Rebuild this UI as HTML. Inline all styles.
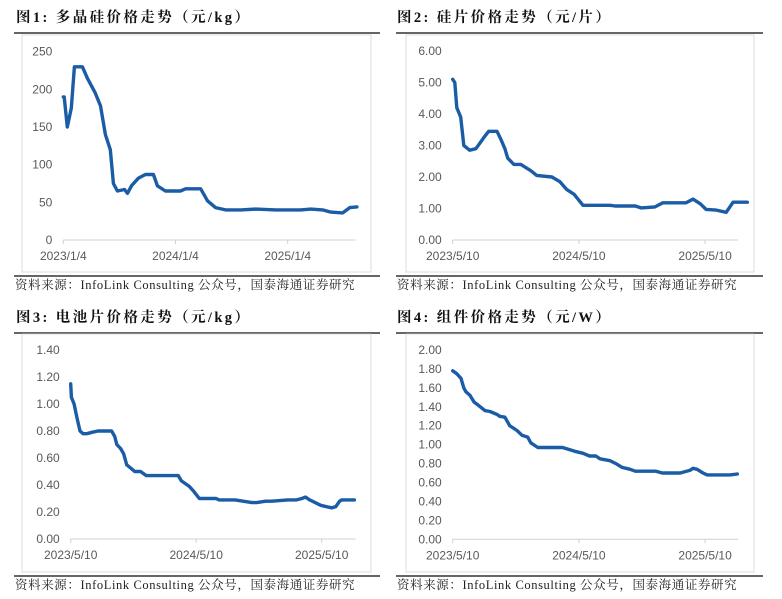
<!DOCTYPE html>
<html><head><meta charset="utf-8">
<style>
body{margin:0;background:#fff;width:782px;height:599px;overflow:hidden;font-family:"Liberation Serif","Noto Serif CJK SC",serif;}
svg{position:absolute;left:0;top:0}
</style></head>
<body>
<svg id="s" width="782" height="599"></svg>
<script>
// Chart 1: polysilicon (days since 2023/1/4)
const c1Days=[0,3,13,26,36,62,78,104,121,137,153,163,176,199,209,222,244,267,293,306,332,381,398,447,469,495,528,577,626,691,772,805,844,870,909,932,955];
const c1Vals=[190,190,150,175,230,230,215,195,178,140,120,75,65,67,62,72,82,87,87,72,65,65,68,68,52,43,40,40,41,40,40,41,40,37,36,43,44];
const c1Ticks=[0,50,100,150,200,250];
const c1XLabels=["2023/1/4","2024/1/4","2025/1/4"];
// Chart 2: wafer (days since 2023/5/10)
const c2Days=[0,6,12,23,32,49,67,90,104,128,139,151,159,177,197,226,243,287,310,330,351,377,455,470,528,545,585,608,675,695,716,733,762,791,811,831,852];
const c2Vals=[5.1,5.0,4.2,3.9,3.0,2.85,2.9,3.25,3.45,3.45,3.2,2.9,2.6,2.4,2.4,2.2,2.05,2.0,1.85,1.6,1.45,1.1,1.1,1.08,1.08,1.02,1.05,1.18,1.18,1.3,1.15,0.97,0.95,0.88,1.2,1.2,1.2];
const c2Ticks=[0,1,2,3,4,5,6];
const c2XLabels=["2023/5/10","2024/5/10","2025/5/10"];
// Chart 3: cell
const c3Days=[0,2,10,18,27,36,47,62,79,119,128,134,145,154,163,177,186,203,220,267,313,322,345,359,374,423,432,478,527,541,567,585,631,657,672,683,695,727,759,771,782,788,825];
const c3Vals=[1.15,1.05,1.0,0.9,0.8,0.78,0.78,0.79,0.8,0.8,0.76,0.7,0.67,0.63,0.55,0.52,0.5,0.5,0.47,0.47,0.47,0.43,0.39,0.35,0.3,0.3,0.29,0.29,0.27,0.27,0.28,0.28,0.29,0.29,0.3,0.31,0.29,0.25,0.23,0.24,0.28,0.29,0.29];
const c3Ticks=[0,0.2,0.4,0.6,0.8,1.0,1.2,1.4];
// Chart 4: module
const c4Days=[0,12,24,32,38,50,62,73,93,108,128,136,151,165,186,200,217,226,246,295,318,353,376,396,414,426,455,472,490,513,528,588,606,658,687,695,707,724,736,802,823];
const c4Vals=[1.78,1.75,1.7,1.6,1.56,1.52,1.45,1.42,1.36,1.35,1.32,1.3,1.29,1.2,1.15,1.1,1.08,1.02,0.97,0.97,0.97,0.93,0.91,0.88,0.88,0.85,0.83,0.8,0.76,0.74,0.72,0.72,0.7,0.7,0.73,0.75,0.74,0.7,0.68,0.68,0.69];
const c4Ticks=[0,0.2,0.4,0.6,0.8,1.0,1.2,1.4,1.6,1.8,2.0];

const NS="http://www.w3.org/2000/svg";
const svg=document.getElementById('s');
function mk(tag,attrs,parent){const e=document.createElementNS(NS,tag);for(const k in attrs)e.setAttribute(k,attrs[k]);(parent||svg).appendChild(e);return e;}

function panel(o){
  const g=mk('g',{});
  
  
  const t=mk('text',{x:o.tx,y:o.ty,'font-size':14.5,'font-weight':'bold',fill:'#111','letter-spacing':'2.4px','font-family':'"Liberation Serif","Noto Serif CJK SC",serif'},g);
  t.textContent=o.title;
  
  
  mk('line',{x1:o.lx1,x2:o.lx2,y1:o.ty+11,y2:o.ty+11,stroke:'#333','stroke-width':1.6},g);
  const box=mk('rect',{x:o.bx,y:o.by,width:o.bw,height:o.bh,fill:'none',stroke:'#dcdcdc','stroke-width':1},g);
  
  
  const ymin=o.ticks[0],ymax=o.ticks[o.ticks.length-1];
  const ys=v=>o.y0+(v-ymin)/(ymax-ymin)*(o.y1-o.y0);
  const xs=d=>o.x0+d*o.pxPerYear/365;
  o.ticks.forEach(v=>{
    const l=mk('text',{x:o.x0-11,y:ys(v)+4,'text-anchor':'end','font-size':12,fill:'#595959','font-family':'"Liberation Sans",sans-serif'},g);
    l.textContent=o.dec?v.toFixed(2):String(v);
    
    
  });
  mk('line',{x1:o.x0,x2:o.xEnd,y1:o.y0,y2:o.y0,stroke:'#d0d0d0','stroke-width':1},g);
  o.xl.forEach((s,i)=>{
    const x=o.x0+i*o.pxPerYear;
    mk('line',{x1:x,x2:x,y1:o.y0,y2:o.y0+4,stroke:'#d0d0d0'},g);
    const l=mk('text',{x:x,y:o.y0+20,'text-anchor':'middle','font-size':12,fill:'#595959','font-family':'"Liberation Sans",sans-serif'},g);
    l.textContent=s;
    
    
  });
  const pts=o.days.map((d,i)=>xs(d).toFixed(1)+','+ys(o.vals[i]).toFixed(1)).join(' ');
  const pl=mk('polyline',{points:pts,fill:'none',stroke:'#1b5ca6','stroke-width':3.4,'stroke-linejoin':'round','stroke-linecap':'round'},g);
  
  
  mk('line',{x1:o.lx1,x2:o.lx2,y1:o.by+o.bh+4,y2:o.by+o.bh+4,stroke:'#333','stroke-width':1.6},g);
  const src=mk('text',{x:o.lx1+1,y:o.by+o.bh+17,'font-size':12.5,fill:'#222','letter-spacing':'0.6px','font-family':'"Liberation Serif","Noto Serif CJK SC",serif'},g);
  src.textContent='资料来源：InfoLink Consulting 公众号，国泰海通证券研究';
  
  
}
panel({name:'polysilicon-chart',title:'图1:  多晶硅价格走势（元/kg）',tx:16,ty:22,lx1:14,lx2:380,bx:22,by:35,bw:349,bh:237,
  x0:63.3,xEnd:355.7,pxPerYear:112.2,y0:240,y1:51.7,ticks:c1Ticks,dec:false,xl:c1XLabels,days:c1Days,vals:c1Vals});
panel({name:'wafer-chart',title:'图2:  硅片价格走势（元/片）',tx:397,ty:22,lx1:396,lx2:763,bx:406,by:35,bw:348,bh:237,
  x0:452.7,xEnd:737.7,pxPerYear:126.2,y0:240,y1:51,ticks:c2Ticks,dec:true,xl:c2XLabels,days:c2Days,vals:c2Vals});
panel({name:'cell-chart',title:'图3:  电池片价格走势（元/kg）',tx:16,ty:322,lx1:14,lx2:380,bx:22,by:334,bw:349,bh:238,
  x0:70.7,xEnd:355.6,pxPerYear:125.5,y0:539,y1:350,ticks:c3Ticks,dec:true,xl:c2XLabels,days:c3Days,vals:c3Vals});
panel({name:'module-chart',title:'图4:  组件价格走势（元/W）',tx:397,ty:322,lx1:396,lx2:763,bx:406,by:334,bw:348,bh:238,
  x0:452.7,xEnd:738,pxPerYear:126.2,y0:539.3,y1:350,ticks:c4Ticks,dec:true,xl:c2XLabels,days:c4Days,vals:c4Vals});
</script>
</body></html>
